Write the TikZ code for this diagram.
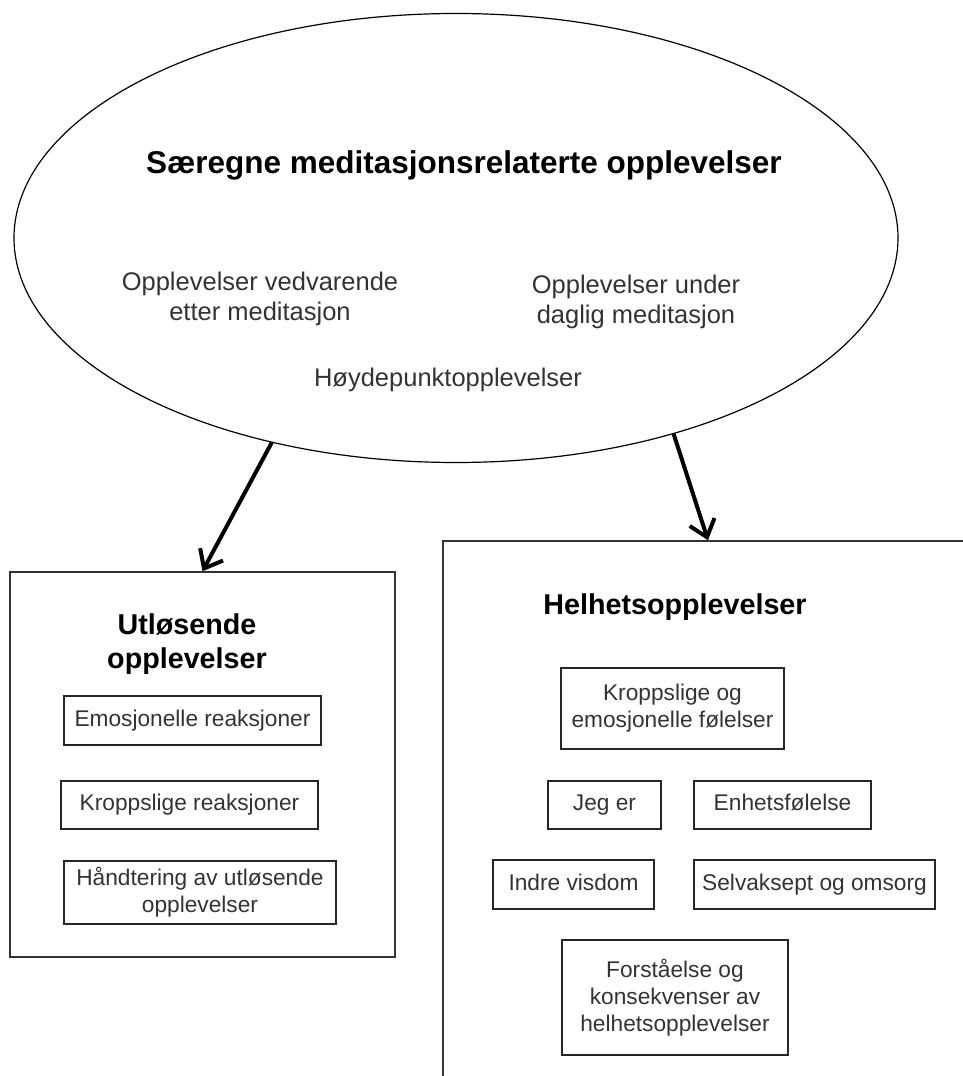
\documentclass[tikz,border=0pt]{standalone}
\usepackage{fontspec}
\setmainfont{Liberation Sans}
\usetikzlibrary{arrows.meta}
\usetikzlibrary{shapes.geometric}

\begin{document}
\begin{tikzpicture}[x=1pt,y=-1pt]
	\tikzset{oval/.style = {shape=ellipse,draw,line width=1.2pt,minimum width=884pt,minimum height=449pt,inner sep=0pt}}
	\tikzset{frame/.style = {shape=rectangle,draw=black!80,line width=1.5pt,inner sep=0pt}}
	\tikzset{item/.style = {shape=rectangle,draw=black!85,line width=1.5pt,inner sep=0pt,text=black!80,align=center,font=\fontsize{22.7}{27}\selectfont}}
	\tikzset{oneline/.style = {item,text height=16.5pt,text depth=5pt}}
	\tikzset{head/.style = {font=\bfseries\fontsize{28.7}{34}\selectfont,align=center}}
	\tikzset{sub/.style = {text=black!80,align=center,font=\fontsize{25.5}{30}\selectfont}}
	\tikzset{edge/.style = {-{Straight Barb[length=16pt,width=26pt]},line width=4pt}}
	\useasboundingbox (0,0) rectangle (963,1076);
	\clip (0,0) rectangle (963,1076);
	% ellipse
	\node[oval] (sma) at (456,238) {};
	\node[font=\bfseries\fontsize{31.5}{36}\selectfont] (smatitle) at (464,165) {Særegne meditasjonsrelaterte opplevelser};
	\node[sub] (etter) at (260,299) {Opplevelser vedvarende\\etter meditasjon};
	\node[sub] (under) at (636,302) {Opplevelser under\\daglig meditasjon};
	\node[sub] (hoyde) at (448,380) {Høydepunktopplevelser};
	% left box
	\node[frame,minimum width=385pt,minimum height=385pt] (utl) at (202.5,764.5) {};
	\node[head] (utltitle) at (187,644) {Utløsende\\opplevelser};
	\node[oneline,minimum width=257pt,minimum height=49pt] (emo) at (192.5,720.5) {Emosjonelle reaksjoner};
	\node[oneline,minimum width=257pt,minimum height=48pt] (kro) at (189.5,805) {Kroppslige reaksjoner};
	\node[item,minimum width=272pt,minimum height=63pt] (hand) at (200,892.5) {Håndtering av utløsende\\opplevelser};
	% right box
	\node[frame,minimum width=530pt,minimum height=560pt] (hel) at (708,821) {};
	\node[head] (heltitle) at (675,607) {Helhetsopplevelser};
	\node[item,minimum width=223pt,minimum height=81pt] (fol) at (672.5,708.5) {Kroppslige og\\emosjonelle følelser};
	\node[oneline,minimum width=113pt,minimum height=48pt] (jeg) at (604.5,805) {Jeg er};
	\node[oneline,minimum width=177pt,minimum height=48pt] (enh) at (782.5,805) {Enhetsfølelse};
	\node[oneline,minimum width=161pt,minimum height=49pt] (ind) at (573.5,884.5) {Indre visdom};
	\node[oneline,minimum width=241pt,minimum height=49pt] (sel) at (814.5,884.5) {Selvaksept og omsorg};
	\node[item,minimum width=226pt,minimum height=115pt] (for) at (675,997.5) {Forståelse og\\konsekvenser av\\helhetsopplevelser};
	% edges
	\draw[edge] (sma.228.5) -- (utl.north);
	\draw[edge] (sma.318.8) -- (hel.north);
\end{tikzpicture}
\end{document}
